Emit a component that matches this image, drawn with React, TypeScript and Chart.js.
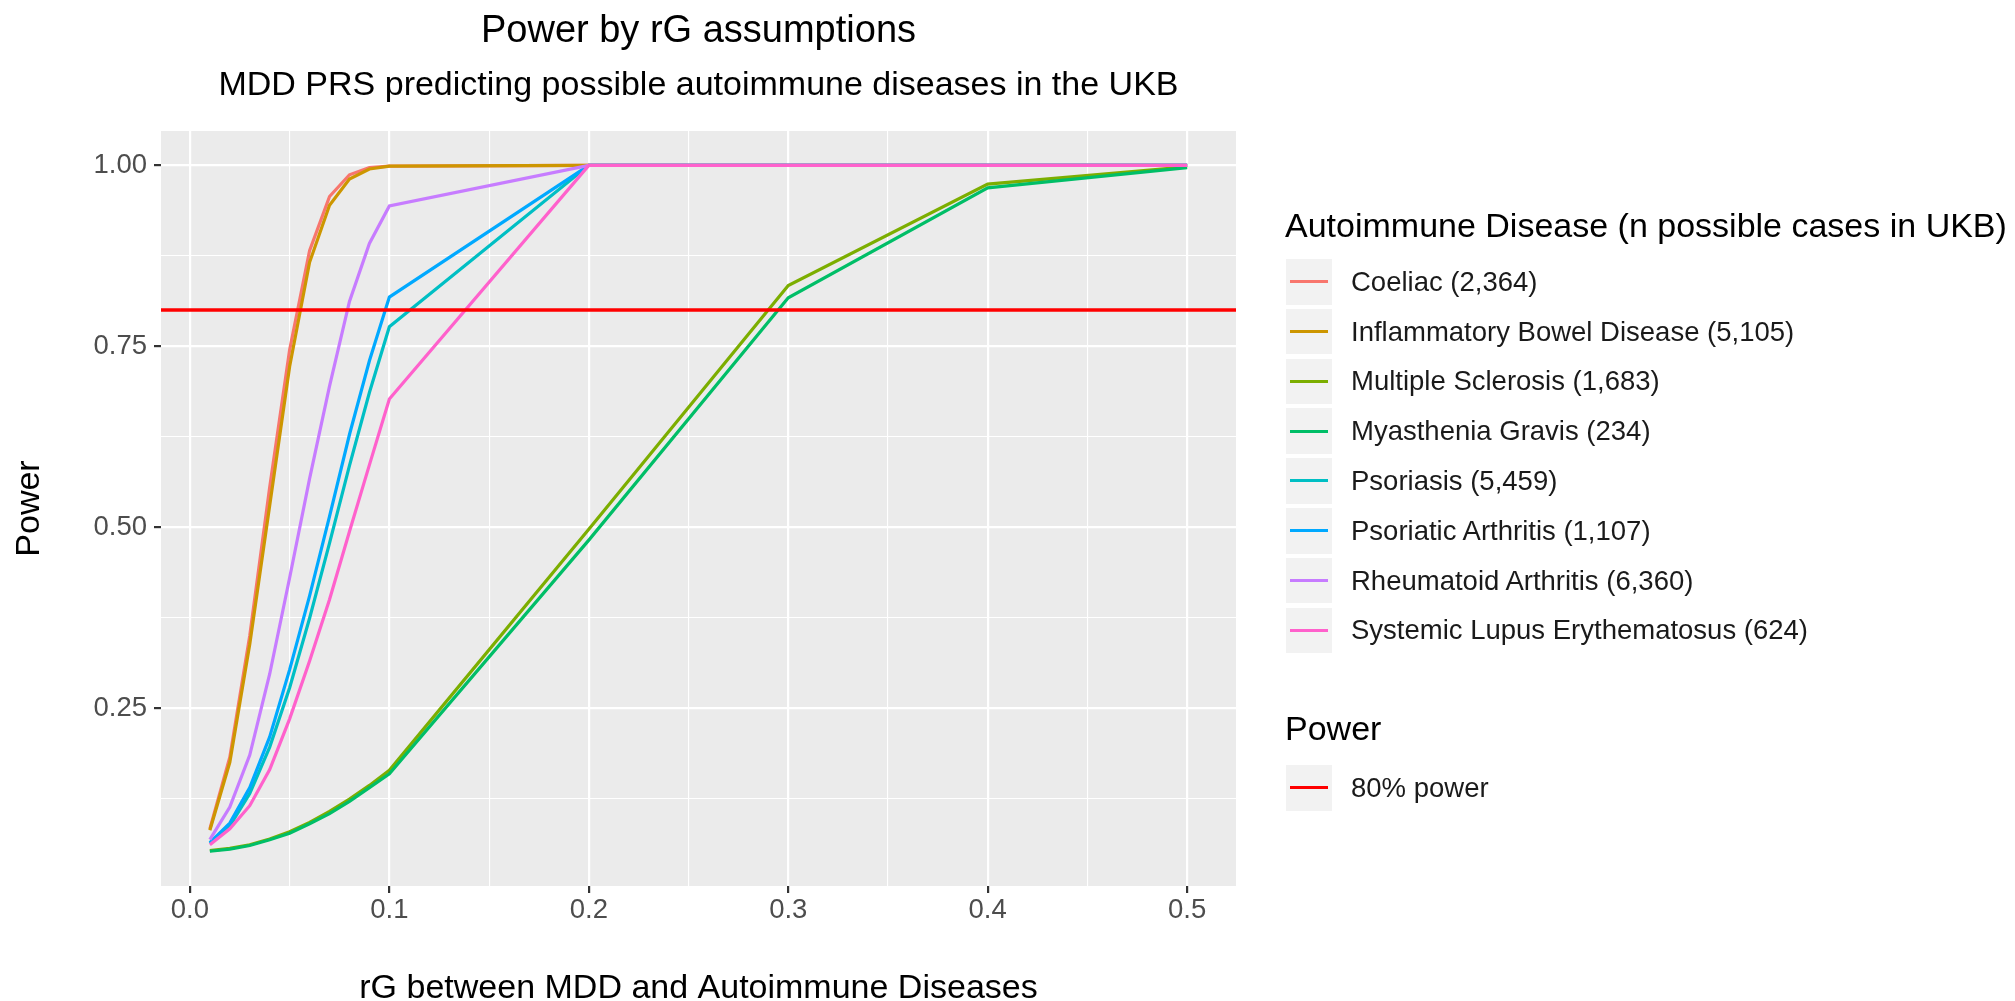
import React, { useEffect, useRef } from "react";
import { Chart, registerables } from "chart.js";

Chart.register(...registerables);

// ---------- data ----------
const rgValues = [0.01, 0.02, 0.03, 0.04, 0.05, 0.06, 0.07, 0.08, 0.09, 0.1, 0.2, 0.3, 0.4, 0.5];

const diseaseNames = [
  "Coeliac (2,364)",
  "Inflammatory Bowel Disease (5,105)",
  "Multiple Sclerosis (1,683)",
  "Myasthenia Gravis (234)",
  "Psoriasis (5,459)",
  "Psoriatic Arthritis (1,107)",
  "Rheumatoid Arthritis (6,360)",
  "Systemic Lupus Erythematosus (624)",
];

const coeliacPower = [0.083, 0.182, 0.35, 0.555, 0.745, 0.882, 0.957, 0.987, 0.997, 0.999, 1.0, 1.0, 1.0, 1.0];
const ibdPower = [0.081, 0.175, 0.338, 0.53, 0.722, 0.866, 0.945, 0.981, 0.995, 0.999, 1.0, 1.0, 1.0, 1.0];
const msPower = [0.053, 0.056, 0.061, 0.069, 0.079, 0.092, 0.107, 0.124, 0.143, 0.164, 0.497, 0.834, 0.974, 0.998];
const mgPower = [0.052, 0.055, 0.06, 0.068, 0.077, 0.09, 0.104, 0.121, 0.14, 0.159, 0.482, 0.817, 0.969, 0.997];
const psoriasisPower = [0.063, 0.087, 0.132, 0.196, 0.278, 0.374, 0.478, 0.585, 0.686, 0.777, 1.0, 1.0, 1.0, 1.0];
const psoriaticArthritisPower = [0.064, 0.091, 0.14, 0.21, 0.303, 0.405, 0.515, 0.628, 0.73, 0.818, 1.0, 1.0, 1.0, 1.0];
const rheumatoidArthritisPower = [0.068, 0.113, 0.185, 0.297, 0.43, 0.567, 0.695, 0.812, 0.892, 0.944, 1.0, 1.0, 1.0, 1.0];
const slePower = [0.061, 0.083, 0.115, 0.165, 0.235, 0.315, 0.4, 0.494, 0.586, 0.677, 1.0, 1.0, 1.0, 1.0];

const seriesValues = [
  coeliacPower,
  ibdPower,
  msPower,
  mgPower,
  psoriasisPower,
  psoriaticArthritisPower,
  rheumatoidArthritisPower,
  slePower,
];

const seriesColors = ["#F8766D", "#CD9600", "#7CAE00", "#00BE67", "#00BFC4", "#00A9FF", "#C77CFF", "#FF61CC"];

const powerThreshold = 0.8;
const powerLabel = "80% power";

const xMajorTicks = [0, 0.1, 0.2, 0.3, 0.4, 0.5];
const xMinorTicks = [0.05, 0.15, 0.25, 0.35, 0.45];
const yMajorTicks = [0.25, 0.5, 0.75, 1.0];
const yMinorTicks = [0.125, 0.375, 0.625, 0.875];

const xLimits = [-0.0145, 0.5245];
const yLimits = [0.004, 1.0475];

const titleText = "Power by rG assumptions";
const subtitleText = "MDD PRS predicting possible autoimmune diseases in the UKB";
const xAxisTitle = "rG between MDD and Autoimmune Diseases";
const yAxisTitle = "Power";
const diseaseLegendTitle = "Autoimmune Disease (n possible cases in UKB)";
const powerLegendTitle = "Power";

// ---------- layout ----------
const W = 2015;
const H = 1001;
const PANEL_LEFT = 161;
const PANEL_RIGHT = 1236;
const PANEL_TOP = 131;
const PANEL_BOTTOM = 886;
const FONT = '"Liberation Sans", Arial, Helvetica, sans-serif';

const isIn = (arr: number[], v: number) => arr.some((a) => Math.abs(a - v) < 1e-9);

const panelBackground = {
  id: "panelBackground",
  beforeDraw(chart: any) {
    const { ctx, chartArea } = chart;
    ctx.save();
    ctx.fillStyle = "#EBEBEB";
    ctx.fillRect(chartArea.left, chartArea.top, chartArea.right - chartArea.left, chartArea.bottom - chartArea.top);
    ctx.restore();
  },
};

const hline = {
  id: "powerHline",
  afterDatasetsDraw(chart: any) {
    const { ctx, chartArea, scales } = chart;
    const y = scales.y.getPixelForValue(powerThreshold);
    ctx.save();
    ctx.strokeStyle = "#FF0000";
    ctx.lineWidth = 3.4;
    ctx.beginPath();
    ctx.moveTo(chartArea.left, y);
    ctx.lineTo(chartArea.right, y);
    ctx.stroke();
    ctx.restore();
  },
};

function ChartCanvas() {
  const ref = useRef<HTMLCanvasElement | null>(null);
  useEffect(() => {
    if (!ref.current) return;
    const datasets = seriesValues.map((vals, i) => ({
      label: diseaseNames[i],
      data: rgValues.map((x, j) => ({ x, y: vals[j] })),
      borderColor: seriesColors[i],
      backgroundColor: seriesColors[i],
      borderWidth: 3.2,
      pointRadius: 0,
      pointHoverRadius: 0,
      tension: 0,
      fill: false,
      order: seriesValues.length - i,
    }));
    const chart = new Chart(ref.current, {
      type: "line",
      data: { datasets },
      options: {
        responsive: false,
        animation: false,
        events: [],
        layout: { padding: { left: 0, top: PANEL_TOP, right: W - PANEL_RIGHT, bottom: 0 } },
        plugins: { legend: { display: false }, title: { display: false }, tooltip: { enabled: false } },
        scales: {
          x: {
            type: "linear",
            min: xLimits[0],
            max: xLimits[1],
            afterFit: (s: any) => {
              s.height = H - PANEL_BOTTOM;
            },
            afterBuildTicks: (s: any) => {
              s.ticks = [...xMajorTicks, ...xMinorTicks].sort((a, b) => a - b).map((v) => ({ value: v }));
            },
            border: { display: false },
            grid: {
              color: "#FFFFFF",
              lineWidth: (c: any) => (isIn(xMajorTicks, c.tick.value) ? 2.2 : 1.1),
              tickColor: (c: any) => (isIn(xMajorTicks, c.tick.value) ? "#333333" : "rgba(0,0,0,0)"),
              tickLength: 7,
              tickWidth: 2.2,
            },
            ticks: {
              autoSkip: false,
              maxRotation: 0,
              padding: 4,
              color: "#4D4D4D",
              font: { family: FONT, size: 27.5, lineHeight: 1 },
              callback: (v: any) => (isIn(xMajorTicks, Number(v)) ? Number(v).toFixed(1) : ""),
            },
            title: {
              display: true,
              text: xAxisTitle,
              color: "#000000",
              font: { family: FONT, size: 34, lineHeight: 1 },
              padding: { top: 0, bottom: -5 },
            },
          },
          y: {
            type: "linear",
            min: yLimits[0],
            max: yLimits[1],
            afterFit: (s: any) => {
              s.width = PANEL_LEFT;
            },
            afterBuildTicks: (s: any) => {
              s.ticks = [...yMajorTicks, ...yMinorTicks].sort((a, b) => a - b).map((v) => ({ value: v }));
            },
            border: { display: false },
            grid: {
              color: "#FFFFFF",
              lineWidth: (c: any) => (isIn(yMajorTicks, c.tick.value) ? 2.2 : 1.1),
              tickColor: (c: any) => (isIn(yMajorTicks, c.tick.value) ? "#333333" : "rgba(0,0,0,0)"),
              tickLength: 7,
              tickWidth: 2.2,
            },
            ticks: {
              autoSkip: false,
              padding: 7,
              color: "#4D4D4D",
              font: { family: FONT, size: 27.5, lineHeight: 1 },
              callback: (v: any) => (isIn(yMajorTicks, Number(v)) ? Number(v).toFixed(2) : ""),
            },
            title: {
              display: true,
              text: yAxisTitle,
              color: "#000000",
              font: { family: FONT, size: 34, lineHeight: 1 },
              padding: { top: 13, bottom: 0 },
            },
          },
        },
      },
      plugins: [panelBackground, hline],
    });
    return () => chart.destroy();
  }, []);
  return <canvas ref={ref} width={W} height={H} style={{ position: "absolute", left: 0, top: 0, width: W, height: H }} />;
}

const KEY_LEFT = 1286;
const KEY_W = 46;
const KEY_H = 45.5;
const ROW_STEP = 49.8;
const FIRST_KEY_TOP = 259;
const LABEL_LEFT = 1351;

function LegendKey({ top, color }: { top: number; color: string }) {
  return (
    <div style={{ position: "absolute", left: KEY_LEFT, top, width: KEY_W, height: KEY_H, background: "#F2F2F2" }}>
      <div
        style={{
          position: "absolute",
          left: 4,
          right: 4,
          top: KEY_H / 2 - 1.5,
          height: 3,
          background: color,
        }}
      />
    </div>
  );
}

function LegendLabel({ centerY, text }: { centerY: number; text: string }) {
  return (
    <div
      style={{
        position: "absolute",
        left: LABEL_LEFT,
        top: centerY - 20,
        height: 40,
        lineHeight: "40px",
        fontSize: 27.5,
        fontFamily: FONT,
        color: "#1A1A1A",
        whiteSpace: "nowrap",
      }}
    >
      {text}
    </div>
  );
}

export default function App() {
  return (
    <div style={{ position: "absolute", left: 0, top: 0, width: W, height: H, background: "#FFFFFF", overflow: "hidden" }}>
      <ChartCanvas />
      <div
        style={{
          position: "absolute",
          left: 0,
          width: PANEL_LEFT + PANEL_RIGHT,
          top: 10,
          textAlign: "center",
          fontFamily: FONT,
          fontSize: 38,
          lineHeight: 1,
          color: "#000",
          whiteSpace: "nowrap",
        }}
      >
        {titleText}
      </div>
      <div
        style={{
          position: "absolute",
          left: 0,
          width: PANEL_LEFT + PANEL_RIGHT,
          top: 65.5,
          textAlign: "center",
          fontFamily: FONT,
          fontSize: 34,
          lineHeight: 1,
          color: "#000",
          whiteSpace: "nowrap",
        }}
      >
        {subtitleText}
      </div>
      <div
        style={{
          position: "absolute",
          left: 1285,
          top: 208,
          fontFamily: FONT,
          fontSize: 34,
          lineHeight: 1,
          color: "#000",
          whiteSpace: "nowrap",
        }}
      >
        {diseaseLegendTitle}
      </div>
      {diseaseNames.map((name, i) => (
        <React.Fragment key={name}>
          <LegendKey top={FIRST_KEY_TOP + i * ROW_STEP} color={seriesColors[i]} />
          <LegendLabel centerY={FIRST_KEY_TOP + i * ROW_STEP + KEY_H / 2} text={name} />
        </React.Fragment>
      ))}
      <div
        style={{
          position: "absolute",
          left: 1285,
          top: 711,
          fontFamily: FONT,
          fontSize: 34,
          lineHeight: 1,
          color: "#000",
          whiteSpace: "nowrap",
        }}
      >
        {powerLegendTitle}
      </div>
      <LegendKey top={765} color="#FF0000" />
      <LegendLabel centerY={765 + KEY_H / 2} text={powerLabel} />
    </div>
  );
}
